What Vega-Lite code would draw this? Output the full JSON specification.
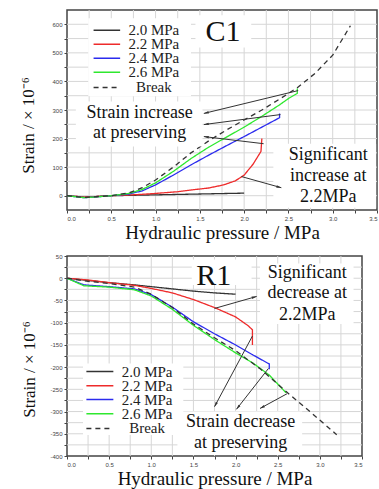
{
  "$schema": "https://vega.github.io/schema/vega-lite/v6.json",
  "padding": {"left": 19, "top": 8, "right": 0, "bottom": 0},
  "background": "white",
  "config": {
    "view": {"stroke": "#444", "strokeWidth": 1.5},
    "axis": {
      "domain": false,
      "grid": false,
      "labelOverlap": false,
      "labelFontSize": 6,
      "labelColor": "#444",
      "tickColor": "#444",
      "tickSize": 3,
      "labelPadding": 2
    }
  },
  "datasets": {
    "c1": [
      {"s": "2.0 MPa", "i": 1, "x": 0, "y": 0},
      {"s": "2.0 MPa", "i": 2, "x": 0.2, "y": -5},
      {"s": "2.0 MPa", "i": 3, "x": 0.5, "y": 0},
      {"s": "2.0 MPa", "i": 4, "x": 1.0, "y": 3},
      {"s": "2.0 MPa", "i": 5, "x": 1.5, "y": 6},
      {"s": "2.0 MPa", "i": 6, "x": 2.0, "y": 9},
      {"s": "2.2 MPa", "i": 1, "x": 0, "y": 0},
      {"s": "2.2 MPa", "i": 2, "x": 0.2, "y": -5},
      {"s": "2.2 MPa", "i": 3, "x": 0.5, "y": 0},
      {"s": "2.2 MPa", "i": 4, "x": 0.8, "y": 4},
      {"s": "2.2 MPa", "i": 5, "x": 1.0, "y": 8},
      {"s": "2.2 MPa", "i": 6, "x": 1.25, "y": 14},
      {"s": "2.2 MPa", "i": 7, "x": 1.4, "y": 20},
      {"s": "2.2 MPa", "i": 8, "x": 1.6, "y": 27},
      {"s": "2.2 MPa", "i": 9, "x": 1.77, "y": 38},
      {"s": "2.2 MPa", "i": 10, "x": 1.9, "y": 52},
      {"s": "2.2 MPa", "i": 11, "x": 2.0, "y": 72},
      {"s": "2.2 MPa", "i": 12, "x": 2.1, "y": 110},
      {"s": "2.2 MPa", "i": 13, "x": 2.19, "y": 155},
      {"s": "2.2 MPa", "i": 14, "x": 2.2, "y": 200},
      {"s": "2.4 MPa", "i": 1, "x": 0, "y": 0},
      {"s": "2.4 MPa", "i": 2, "x": 0.2, "y": -7},
      {"s": "2.4 MPa", "i": 3, "x": 0.5, "y": 0},
      {"s": "2.4 MPa", "i": 4, "x": 0.7, "y": 6},
      {"s": "2.4 MPa", "i": 5, "x": 0.85, "y": 17},
      {"s": "2.4 MPa", "i": 6, "x": 1.0, "y": 38},
      {"s": "2.4 MPa", "i": 7, "x": 1.2, "y": 72},
      {"s": "2.4 MPa", "i": 8, "x": 1.4, "y": 108},
      {"s": "2.4 MPa", "i": 9, "x": 1.6, "y": 142},
      {"s": "2.4 MPa", "i": 10, "x": 1.8, "y": 175},
      {"s": "2.4 MPa", "i": 11, "x": 2.0, "y": 207},
      {"s": "2.4 MPa", "i": 12, "x": 2.2, "y": 240},
      {"s": "2.4 MPa", "i": 13, "x": 2.4, "y": 273},
      {"s": "2.4 MPa", "i": 14, "x": 2.4, "y": 288},
      {"s": "2.6 MPa", "i": 1, "x": 0, "y": 0},
      {"s": "2.6 MPa", "i": 2, "x": 0.2, "y": -7},
      {"s": "2.6 MPa", "i": 3, "x": 0.5, "y": 0},
      {"s": "2.6 MPa", "i": 4, "x": 0.7, "y": 8},
      {"s": "2.6 MPa", "i": 5, "x": 0.85, "y": 22},
      {"s": "2.6 MPa", "i": 6, "x": 1.0, "y": 45},
      {"s": "2.6 MPa", "i": 7, "x": 1.2, "y": 85},
      {"s": "2.6 MPa", "i": 8, "x": 1.4, "y": 130},
      {"s": "2.6 MPa", "i": 9, "x": 1.6, "y": 170},
      {"s": "2.6 MPa", "i": 10, "x": 1.8, "y": 205},
      {"s": "2.6 MPa", "i": 11, "x": 2.0, "y": 240},
      {"s": "2.6 MPa", "i": 12, "x": 2.2, "y": 278},
      {"s": "2.6 MPa", "i": 13, "x": 2.4, "y": 318},
      {"s": "2.6 MPa", "i": 14, "x": 2.5, "y": 340},
      {"s": "2.6 MPa", "i": 15, "x": 2.6, "y": 358},
      {"s": "2.6 MPa", "i": 16, "x": 2.6, "y": 375},
      {"s": "Break", "i": 1, "x": 0, "y": 0},
      {"s": "Break", "i": 2, "x": 0.2, "y": -6},
      {"s": "Break", "i": 3, "x": 0.5, "y": 0},
      {"s": "Break", "i": 4, "x": 0.7, "y": 10},
      {"s": "Break", "i": 5, "x": 0.85, "y": 28},
      {"s": "Break", "i": 6, "x": 1.0, "y": 55},
      {"s": "Break", "i": 7, "x": 1.2, "y": 100},
      {"s": "Break", "i": 8, "x": 1.4, "y": 150},
      {"s": "Break", "i": 9, "x": 1.6, "y": 192},
      {"s": "Break", "i": 10, "x": 1.8, "y": 230},
      {"s": "Break", "i": 11, "x": 2.0, "y": 265},
      {"s": "Break", "i": 12, "x": 2.2, "y": 300},
      {"s": "Break", "i": 13, "x": 2.4, "y": 338},
      {"s": "Break", "i": 14, "x": 2.6, "y": 378},
      {"s": "Break", "i": 15, "x": 2.8, "y": 428},
      {"s": "Break", "i": 16, "x": 3.0, "y": 492},
      {"s": "Break", "i": 17, "x": 3.2, "y": 595}
    ],
    "r1": [
      {"s": "2.0 MPa", "i": 1, "x": 0, "y": 0},
      {"s": "2.0 MPa", "i": 2, "x": 0.25, "y": -5},
      {"s": "2.0 MPa", "i": 3, "x": 0.5, "y": -10},
      {"s": "2.0 MPa", "i": 4, "x": 0.8, "y": -15},
      {"s": "2.0 MPa", "i": 5, "x": 1.0, "y": -19},
      {"s": "2.0 MPa", "i": 6, "x": 1.25, "y": -24},
      {"s": "2.0 MPa", "i": 7, "x": 1.5, "y": -29},
      {"s": "2.0 MPa", "i": 8, "x": 1.75, "y": -33},
      {"s": "2.0 MPa", "i": 9, "x": 2.0, "y": -36},
      {"s": "2.2 MPa", "i": 1, "x": 0, "y": 0},
      {"s": "2.2 MPa", "i": 2, "x": 0.25, "y": -4},
      {"s": "2.2 MPa", "i": 3, "x": 0.5, "y": -10},
      {"s": "2.2 MPa", "i": 4, "x": 0.8, "y": -16},
      {"s": "2.2 MPa", "i": 5, "x": 1.0, "y": -23},
      {"s": "2.2 MPa", "i": 6, "x": 1.25, "y": -33},
      {"s": "2.2 MPa", "i": 7, "x": 1.5, "y": -48},
      {"s": "2.2 MPa", "i": 8, "x": 1.75, "y": -66},
      {"s": "2.2 MPa", "i": 9, "x": 2.0, "y": -87},
      {"s": "2.2 MPa", "i": 10, "x": 2.15, "y": -107},
      {"s": "2.2 MPa", "i": 11, "x": 2.2, "y": -116},
      {"s": "2.2 MPa", "i": 12, "x": 2.2, "y": -150},
      {"s": "2.4 MPa", "i": 1, "x": 0, "y": 0},
      {"s": "2.4 MPa", "i": 2, "x": 0.2, "y": -15},
      {"s": "2.4 MPa", "i": 3, "x": 0.5, "y": -19},
      {"s": "2.4 MPa", "i": 4, "x": 0.8, "y": -24},
      {"s": "2.4 MPa", "i": 5, "x": 1.0, "y": -37},
      {"s": "2.4 MPa", "i": 6, "x": 1.25, "y": -65},
      {"s": "2.4 MPa", "i": 7, "x": 1.5, "y": -98},
      {"s": "2.4 MPa", "i": 8, "x": 1.75, "y": -125},
      {"s": "2.4 MPa", "i": 9, "x": 2.0, "y": -150},
      {"s": "2.4 MPa", "i": 10, "x": 2.2, "y": -172},
      {"s": "2.4 MPa", "i": 11, "x": 2.4, "y": -193},
      {"s": "2.4 MPa", "i": 12, "x": 2.4, "y": -205},
      {"s": "2.6 MPa", "i": 1, "x": 0, "y": 0},
      {"s": "2.6 MPa", "i": 2, "x": 0.2, "y": -17},
      {"s": "2.6 MPa", "i": 3, "x": 0.5, "y": -20},
      {"s": "2.6 MPa", "i": 4, "x": 0.8, "y": -26},
      {"s": "2.6 MPa", "i": 5, "x": 1.0, "y": -40},
      {"s": "2.6 MPa", "i": 6, "x": 1.25, "y": -70},
      {"s": "2.6 MPa", "i": 7, "x": 1.5, "y": -106},
      {"s": "2.6 MPa", "i": 8, "x": 1.75, "y": -138},
      {"s": "2.6 MPa", "i": 9, "x": 2.0, "y": -168},
      {"s": "2.6 MPa", "i": 10, "x": 2.2, "y": -190},
      {"s": "2.6 MPa", "i": 11, "x": 2.4, "y": -218},
      {"s": "2.6 MPa", "i": 12, "x": 2.5, "y": -238},
      {"s": "2.6 MPa", "i": 13, "x": 2.6, "y": -258},
      {"s": "Break", "i": 1, "x": 0, "y": 0},
      {"s": "Break", "i": 2, "x": 0.25, "y": -7},
      {"s": "Break", "i": 3, "x": 0.5, "y": -12},
      {"s": "Break", "i": 4, "x": 0.8, "y": -20},
      {"s": "Break", "i": 5, "x": 1.0, "y": -36},
      {"s": "Break", "i": 6, "x": 1.25, "y": -66},
      {"s": "Break", "i": 7, "x": 1.5, "y": -103},
      {"s": "Break", "i": 8, "x": 1.75, "y": -134},
      {"s": "Break", "i": 9, "x": 2.0, "y": -163},
      {"s": "Break", "i": 10, "x": 2.3, "y": -205},
      {"s": "Break", "i": 11, "x": 2.6, "y": -255},
      {"s": "Break", "i": 12, "x": 2.9, "y": -303},
      {"s": "Break", "i": 13, "x": 3.2, "y": -352}
    ],
    "xgrid": [
      {"x": 0.25}, {"x": 0.5}, {"x": 0.75}, {"x": 1.0}, {"x": 1.25}, {"x": 1.5}, {"x": 1.75},
      {"x": 2.0}, {"x": 2.25}, {"x": 2.5}, {"x": 2.75}, {"x": 3.0}, {"x": 3.25}
    ],
    "c1ygrid": [
      {"y": 0}, {"y": 50}, {"y": 100}, {"y": 150}, {"y": 200}, {"y": 250}, {"y": 300},
      {"y": 350}, {"y": 400}, {"y": 450}, {"y": 500}, {"y": 550}, {"y": 600}
    ],
    "r1ygrid": [
      {"y": -375}, {"y": -350}, {"y": -325}, {"y": -300}, {"y": -275}, {"y": -250}, {"y": -225},
      {"y": -200}, {"y": -175}, {"y": -150}, {"y": -125}, {"y": -100}, {"y": -75}, {"y": -50},
      {"y": -25}, {"y": 0}, {"y": 25}
    ],
    "c1box": [
      {"x": 0.24, "x2": 1.4, "y": 348, "y2": 621},
      {"x": 1.45, "x2": 2.08, "y": 519, "y2": 632},
      {"x": 0.1, "x2": 1.53, "y": 172, "y2": 330},
      {"x": 2.33, "x2": 3.49, "y": -42, "y2": 182}
    ],
    "r1box": [
      {"x": 1.48, "x2": 2.19, "y": -15, "y2": 42},
      {"x": 2.29, "x2": 3.4, "y": -103, "y2": 33},
      {"x": 1.31, "x2": 2.79, "y": -398, "y2": -300},
      {"x": 0.19, "x2": 1.38, "y": -353, "y2": -192}
    ],
    "c1leg": [
      {"s": "2.0 MPa", "x": 0.3, "x2": 0.6, "y": 579, "tx": 0.98},
      {"s": "2.2 MPa", "x": 0.3, "x2": 0.6, "y": 530, "tx": 0.98},
      {"s": "2.4 MPa", "x": 0.3, "x2": 0.6, "y": 481, "tx": 0.98},
      {"s": "2.6 MPa", "x": 0.3, "x2": 0.6, "y": 432, "tx": 0.98},
      {"s": "Break", "x": 0.3, "x2": 0.6, "y": 379, "tx": 0.98}
    ],
    "r1leg": [
      {"s": "2.0 MPa", "x": 0.23, "x2": 0.55, "y": -210, "tx": 0.95},
      {"s": "2.2 MPa", "x": 0.23, "x2": 0.55, "y": -242, "tx": 0.95},
      {"s": "2.4 MPa", "x": 0.23, "x2": 0.55, "y": -273, "tx": 0.95},
      {"s": "2.6 MPa", "x": 0.23, "x2": 0.55, "y": -305, "tx": 0.95},
      {"s": "Break", "x": 0.23, "x2": 0.55, "y": -338, "tx": 0.95}
    ],
    "c1text": [
      {"t": "Strain increase", "x": 0.82, "y": 291},
      {"t": "at preserving", "x": 0.82, "y": 218},
      {"t": "Significant", "x": 2.95, "y": 144},
      {"t": "increase at", "x": 2.95, "y": 70},
      {"t": "2.2MPa", "x": 2.95, "y": -4}
    ],
    "r1text": [
      {"t": "Significant", "x": 2.85, "y": 11},
      {"t": "decrease  at", "x": 2.85, "y": -34},
      {"t": "2.2MPa", "x": 2.85, "y": -82},
      {"t": "Strain decrease", "x": 2.06, "y": -323},
      {"t": "at preserving", "x": 2.06, "y": -370}
    ],
    "c1label": [{"t": "C1", "x": 1.76, "y": 572}],
    "r1label": [{"t": "R1", "x": 1.74, "y": 6}],
    "c1arrow": [
      {"x": 2.61, "y": 368, "x2": 1.545, "y2": 288, "a": 256},
      {"x": 2.41, "y": 284, "x2": 1.545, "y2": 249, "a": 262},
      {"x": 2.22, "y": 182, "x2": 1.545, "y2": 207, "a": 277},
      {"x": 1.97, "y": 67, "x2": 2.42, "y2": 28, "a": 105}
    ],
    "r1arrow": [
      {"x": 1.75, "y": -68, "x2": 2.25, "y2": -41, "a": 74},
      {"x": 2.2, "y": -130, "x2": 1.75, "y2": -289, "a": 208},
      {"x": 2.39, "y": -203, "x2": 2.01, "y2": -295, "a": 218},
      {"x": 2.61, "y": -260, "x2": 2.29, "y2": -293, "a": 241}
    ]
  },
  "vconcat": [
    {
      "width": 310,
      "height": 200,
      "encoding": {
        "x": {"field": "x", "type": "quantitative", "title": "Hydraulic pressure / MPa",
          "scale": {"domain": [0, 3.5], "nice": false, "zero": false},
          "axis": {
            "values": [0, 0.25, 0.5, 0.75, 1, 1.25, 1.5, 1.75, 2, 2.25, 2.5, 2.75, 3, 3.25, 3.5],
            "labelExpr": "datum.value % 0.5 === 0 ? format(datum.value, '.1f') : ''",
            "labelFont": "Liberation Sans",
            "titleFont": "Liberation Serif",
            "titleFontSize": 19,
            "titleFontWeight": "normal",
            "titleColor": "#111",
            "titlePadding": 2
          }},
        "y": {"field": "y", "type": "quantitative", "title": "Strain / × 10⁻⁶",
          "scale": {"domain": [-50, 650], "nice": false, "zero": false},
          "axis": {
            "values": [0, 50, 100, 150, 200, 250, 300, 350, 400, 450, 500, 550, 600],
            "labelExpr": "datum.value % 100 === 0 ? '' + datum.value : ''",
            "labelFont": "Liberation Sans",
            "titleFont": "Liberation Serif",
            "titleFontSize": 17,
            "titleFontWeight": "normal",
            "titleColor": "#111",
            "titlePadding": 14,
            "titleY": 115
          }}
      },
      "layer": [
        {
          "data": {"name": "xgrid"},
          "mark": {"type": "rule", "color": "#d6d6d6", "strokeWidth": 1},
          "encoding": {"y": null}
        },
        {
          "data": {"name": "c1ygrid"},
          "mark": {"type": "rule", "color": "#d6d6d6", "strokeWidth": 1},
          "encoding": {"x": null}
        },
        {
          "data": {"name": "c1"},
          "mark": {"type": "line", "strokeWidth": 1.3},
          "encoding": {
            "order": {"field": "i", "type": "quantitative"},
            "color": {"field": "s", "type": "nominal", "legend": null,
              "scale": {"domain": ["2.0 MPa", "2.2 MPa", "2.4 MPa", "2.6 MPa", "Break"], "range": ["#333333", "#ee2b2b", "#2b2bee", "#2ee82e", "#333333"]}},
            "strokeDash": {"field": "s", "type": "nominal", "legend": null,
              "scale": {"domain": ["2.0 MPa", "2.2 MPa", "2.4 MPa", "2.6 MPa", "Break"], "range": [[1, 0], [1, 0], [1, 0], [1, 0], [5, 4]]}}
          }
        },
        {
          "data": {"name": "c1box"},
          "mark": {"type": "rect", "fill": "white"},
          "encoding": {
            "x2": {"field": "x2"},
            "y2": {"field": "y2"}
          }
        },
        {
          "data": {"name": "c1leg"},
          "mark": {"type": "rule", "strokeWidth": 1.5},
          "encoding": {
            "x2": {"field": "x2"},
            "color": {"field": "s", "type": "nominal", "legend": null},
            "strokeDash": {"field": "s", "type": "nominal", "legend": null}
          }
        },
        {
          "data": {"name": "c1leg"},
          "mark": {"type": "text", "font": "Liberation Serif", "fontSize": 15, "color": "#222", "align": "center", "baseline": "middle"},
          "encoding": {
            "x": {"field": "tx", "type": "quantitative"},
            "text": {"field": "s"}
          }
        },
        {
          "data": {"name": "c1text"},
          "mark": {"type": "text", "font": "Liberation Serif", "fontSize": 18, "color": "#111", "align": "center", "baseline": "middle"},
          "encoding": {"text": {"field": "t"}}
        },
        {
          "data": {"name": "c1label"},
          "mark": {"type": "text", "font": "Liberation Serif", "fontSize": 30, "color": "#111", "align": "center", "baseline": "middle"},
          "encoding": {"text": {"field": "t"}}
        },
        {
          "data": {"name": "c1arrow"},
          "mark": {"type": "rule", "color": "#333", "strokeWidth": 1},
          "encoding": {
            "x2": {"field": "x2"},
            "y2": {"field": "y2"}
          }
        },
        {
          "data": {"name": "c1arrow"},
          "mark": {"type": "point", "shape": "M0,0L-0.45,1.8L0.45,1.8Z", "filled": true, "color": "#333", "opacity": 1, "size": 30},
          "encoding": {
            "x": {"field": "x2", "type": "quantitative"},
            "y": {"field": "y2", "type": "quantitative"},
            "angle": {"field": "a", "type": "quantitative", "scale": null}
          }
        }
      ]
    },
    {
      "width": 295,
      "height": 200,
      "encoding": {
        "x": {"field": "x", "type": "quantitative", "title": "Hydraulic pressure / MPa",
          "scale": {"domain": [0, 3.5], "nice": false, "zero": false},
          "axis": {
            "values": [0, 0.25, 0.5, 0.75, 1, 1.25, 1.5, 1.75, 2, 2.25, 2.5, 2.75, 3, 3.25, 3.5],
            "labelExpr": "datum.value % 0.5 === 0 ? format(datum.value, '.1f') : ''",
            "labelFont": "Liberation Sans",
            "titleFont": "Liberation Serif",
            "titleFontSize": 19,
            "titleFontWeight": "normal",
            "titleColor": "#111",
            "titlePadding": 2
          }},
        "y": {"field": "y", "type": "quantitative", "title": "Strain / × 10⁻⁶",
          "scale": {"domain": [-400, 50], "nice": false, "zero": false},
          "axis": {
            "values": [-400, -375, -350, -325, -300, -275, -250, -225, -200, -175, -150, -125, -100, -75, -50, -25, 0, 25, 50],
            "labelExpr": "datum.value % 50 === 0 ? '' + datum.value : ''",
            "labelFont": "Liberation Sans",
            "titleFont": "Liberation Serif",
            "titleFontSize": 17,
            "titleFontWeight": "normal",
            "titleColor": "#111",
            "titlePadding": 11,
            "titleY": 113
          }}
      },
      "layer": [
        {
          "data": {"name": "xgrid"},
          "mark": {"type": "rule", "color": "#d6d6d6", "strokeWidth": 1},
          "encoding": {"y": null}
        },
        {
          "data": {"name": "r1ygrid"},
          "mark": {"type": "rule", "color": "#d6d6d6", "strokeWidth": 1},
          "encoding": {"x": null}
        },
        {
          "data": {"name": "r1"},
          "mark": {"type": "line", "strokeWidth": 1.3},
          "encoding": {
            "order": {"field": "i", "type": "quantitative"},
            "color": {"field": "s", "type": "nominal", "legend": null,
              "scale": {"domain": ["2.0 MPa", "2.2 MPa", "2.4 MPa", "2.6 MPa", "Break"], "range": ["#333333", "#ee2b2b", "#2b2bee", "#2ee82e", "#333333"]}},
            "strokeDash": {"field": "s", "type": "nominal", "legend": null,
              "scale": {"domain": ["2.0 MPa", "2.2 MPa", "2.4 MPa", "2.6 MPa", "Break"], "range": [[1, 0], [1, 0], [1, 0], [1, 0], [5, 4]]}}
          }
        },
        {
          "data": {"name": "r1box"},
          "mark": {"type": "rect", "fill": "white"},
          "encoding": {
            "x2": {"field": "x2"},
            "y2": {"field": "y2"}
          }
        },
        {
          "data": {"name": "r1leg"},
          "mark": {"type": "rule", "strokeWidth": 1.5},
          "encoding": {
            "x2": {"field": "x2"},
            "color": {"field": "s", "type": "nominal", "legend": null},
            "strokeDash": {"field": "s", "type": "nominal", "legend": null}
          }
        },
        {
          "data": {"name": "r1leg"},
          "mark": {"type": "text", "font": "Liberation Serif", "fontSize": 15, "color": "#222", "align": "center", "baseline": "middle"},
          "encoding": {
            "x": {"field": "tx", "type": "quantitative"},
            "text": {"field": "s"}
          }
        },
        {
          "data": {"name": "r1text"},
          "mark": {"type": "text", "font": "Liberation Serif", "fontSize": 18, "color": "#111", "align": "center", "baseline": "middle"},
          "encoding": {"text": {"field": "t"}}
        },
        {
          "data": {"name": "r1label"},
          "mark": {"type": "text", "font": "Liberation Serif", "fontSize": 30, "color": "#111", "align": "center", "baseline": "middle"},
          "encoding": {"text": {"field": "t"}}
        },
        {
          "data": {"name": "r1arrow"},
          "mark": {"type": "rule", "color": "#333", "strokeWidth": 1},
          "encoding": {
            "x2": {"field": "x2"},
            "y2": {"field": "y2"}
          }
        },
        {
          "data": {"name": "r1arrow"},
          "mark": {"type": "point", "shape": "M0,0L-0.45,1.8L0.45,1.8Z", "filled": true, "color": "#333", "opacity": 1, "size": 30},
          "encoding": {
            "x": {"field": "x2", "type": "quantitative"},
            "y": {"field": "y2", "type": "quantitative"},
            "angle": {"field": "a", "type": "quantitative", "scale": null}
          }
        }
      ]
    }
  ],
  "spacing": 46,
  "bounds": "flush"
}
